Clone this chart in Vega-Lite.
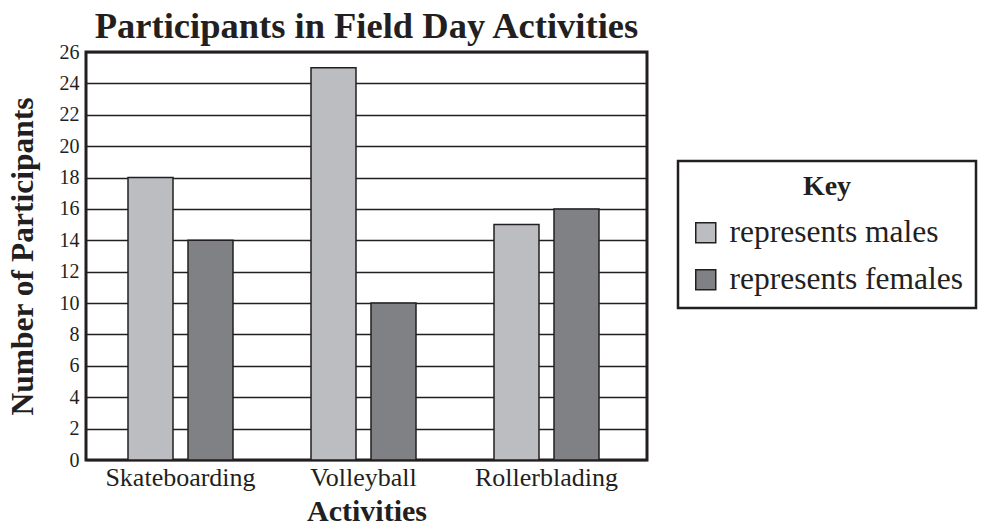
{
  "$schema": "https://vega.github.io/schema/vega-lite/v6.json",
  "width": 561,
  "height": 408,
  "autosize": {"type": "none"},
  "padding": {"left": 86, "top": 52, "right": 339, "bottom": 65},
  "background": "white",
  "title": {
    "text": "Participants in Field Day Activities",
    "font": "Liberation Serif",
    "fontSize": 36.5,
    "fontWeight": "bold",
    "color": "#231f20",
    "anchor": "middle",
    "offset": -3
  },
  "config": {
    "view": {"stroke": "#231f20", "strokeWidth": 3},
    "font": "Liberation Serif",
    "legend": {"strokeColor": "#231f20", "strokeWidth": 2.5, "fillColor": "white", "padding": 12}
  },
  "data": {
    "values": [
      {"activity": "Skateboarding", "sex": "represents males", "count": 18},
      {"activity": "Skateboarding", "sex": "represents females", "count": 14},
      {"activity": "Volleyball", "sex": "represents males", "count": 25},
      {"activity": "Volleyball", "sex": "represents females", "count": 10},
      {"activity": "Rollerblading", "sex": "represents males", "count": 15},
      {"activity": "Rollerblading", "sex": "represents females", "count": 16}
    ]
  },
  "mark": {"type": "bar", "stroke": "#231f20", "strokeWidth": 1.5},
  "encoding": {
    "x": {
      "field": "activity",
      "type": "nominal",
      "sort": ["Skateboarding", "Volleyball", "Rollerblading"],
      "scale": {"paddingInner": 0, "paddingOuter": 0.0328, "align": 0.25},
      "axis": {
        "title": "Activities",
        "titleFont": "Liberation Serif",
        "titleFontSize": 30,
        "titleFontWeight": "bold",
        "titleColor": "#231f20",
        "titlePadding": 6,
        "labelFont": "Liberation Serif",
        "labelFontSize": 26,
        "labelColor": "#231f20",
        "labelAngle": 0,
        "labelPadding": 4,
        "ticks": false,
        "domain": false,
        "grid": false
      }
    },
    "xOffset": {
      "field": "sex",
      "type": "nominal",
      "sort": ["represents males", "represents females"],
      "scale": {"paddingInner": 0.25, "paddingOuter": 0.65}
    },
    "y": {
      "field": "count",
      "type": "quantitative",
      "scale": {"domain": [0, 26], "nice": false},
      "axis": {
        "title": "Number of Participants",
        "titleFont": "Liberation Serif",
        "titleFontSize": 31.5,
        "titleFontWeight": "bold",
        "titleColor": "#231f20",
        "titlePadding": 20,
        "values": [0, 2, 4, 6, 8, 10, 12, 14, 16, 18, 20, 22, 24, 26],
        "labelFont": "Liberation Serif",
        "labelFontSize": 20,
        "labelColor": "#231f20",
        "labelPadding": 7,
        "ticks": false,
        "domain": false,
        "grid": true,
        "gridColor": "#231f20",
        "gridWidth": 1.5,
        "gridOpacity": 1
      }
    },
    "fill": {
      "field": "sex",
      "type": "nominal",
      "sort": ["represents males", "represents females"],
      "scale": {"domain": ["represents males", "represents females"], "range": ["#bcbdc1", "#808185"]},
      "legend": {
        "title": "Key",
        "orient": "none",
        "legendX": 592,
        "legendY": 109,
        "direction": "vertical",
        "titleFont": "Liberation Serif",
        "titleFontSize": 28,
        "titleFontWeight": "bold",
        "titleColor": "#231f20",
        "titleAnchor": "middle",
        "titlePadding": 16,
        "labelFont": "Liberation Serif",
        "labelFontSize": 31.5,
        "labelColor": "#231f20",
        "labelOffset": 8,
        "labelLimit": 400,
        "symbolType": "square",
        "symbolSize": 400,
        "symbolStrokeColor": "#231f20",
        "symbolStrokeWidth": 1.5,
        "rowPadding": 14
      }
    }
  }
}
